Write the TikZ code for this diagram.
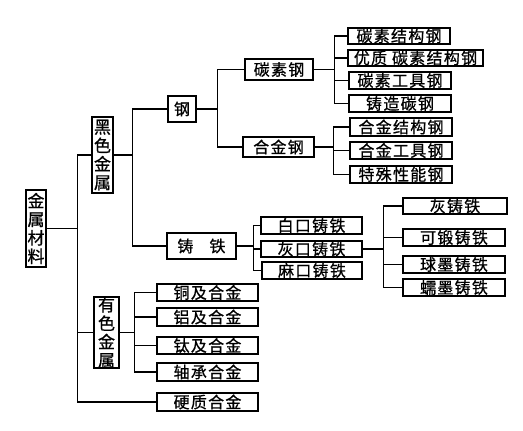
\documentclass[tikz,border=0pt]{standalone}
\usepackage{fontspec}
\newfontfamily\cjk[LetterSpace=8,FakeBold=0.8]{Noto Sans CJK SC}
\newfontfamily\cjkv[FakeBold=0.8]{Noto Sans CJK SC}
\usepackage{tikz}

\tikzset{
  box/.style={draw, line width=1.2pt, inner sep=0pt, minimum height=17pt,
    font=\cjk\fontsize{16}{17}\selectfont},
  vbox/.style={draw, line width=1.2pt, inner sep=0pt, align=center,
    font=\cjkv\fontsize{17}{18.5}\selectfont},
  link/.style={line width=1.2pt}
}

\begin{document}
\begin{tikzpicture}[x=1pt,y=-1pt]
\useasboundingbox (0,0) rectangle (523,431);

% root and first level
\node[vbox, minimum width=20pt, minimum height=77pt] (root) at (36,228.5) {金\\属\\材\\料};
\node[vbox, minimum width=21pt, minimum height=76pt] (hs) at (102.5,155) {黑\\色\\金\\属};
\node[vbox, minimum width=25pt, minimum height=71pt] (ys) at (106.5,332.5) {有\\色\\金\\属};
\node[box, minimum width=101pt, minimum height=18pt] (yz) at (207.5,402) {硬质合金};

% steel
\node[box, minimum width=28pt, minimum height=26pt] (gang) at (182,109) {钢};
\node[box, minimum width=68pt, minimum height=21pt] (tsg) at (279,69.5) {碳素钢};
\node[box, minimum width=71pt, minimum height=20pt] (hjg) at (278.5,147) {合金钢};

\node[box, minimum width=102pt, minimum height=16pt] (t1) at (399,36) {碳素结构钢};
\node[box, minimum width=135pt, minimum height=16pt] (t2) at (415.5,58) {优质 碳素结构钢};
\node[box, minimum width=102pt] (t3) at (400,80.5) {碳素工具钢};
\node[box, minimum width=102pt] (t4) at (400,103.5) {铸造碳钢};

\node[box, minimum width=102pt, minimum height=18pt] (h1) at (401,127) {合金结构钢};
\node[box, minimum width=102pt] (h2) at (401,150.5) {合金工具钢};
\node[box, minimum width=102pt] (h3) at (401,174.5) {特殊性能钢};

% cast iron
\node[box, minimum width=69pt, minimum height=26pt] (zt) at (201.5,246) {铸\hspace{1em}铁};
\node[box, minimum width=101pt] (z1) at (311.5,225.5) {白口铸铁};
\node[box, minimum width=101pt, minimum height=16pt] (z2) at (311.5,249) {灰口铸铁};
\node[box, minimum width=100pt] (z3) at (312,270.5) {麻口铸铁};

\node[box, minimum width=104pt, minimum height=16pt] (g1) at (455,206) {灰铸铁};
\node[box, minimum width=102pt] (g2) at (454,237.5) {可锻铸铁};
\node[box, minimum width=102pt] (g3) at (454,264.5) {球墨铸铁};
\node[box, minimum width=102pt] (g4) at (454,287.5) {蠕墨铸铁};

% non-ferrous
\node[box, minimum width=101pt] (y1) at (207.5,292.5) {铜及合金};
\node[box, minimum width=101pt, minimum height=18pt] (y2) at (207.5,317) {铝及合金};
\node[box, minimum width=101pt] (y3) at (207.5,345.5) {钛及合金};
\node[box, minimum width=101pt, minimum height=18pt] (y4) at (207.5,372) {轴承合金};

% connectors
\foreach \c in {hs,ys,yz} \draw[link] (root.east) -- ++(31,0) |- (\c.west);
\foreach \c in {gang,zt} \draw[link] (hs.east) -- ++(19,0) |- (\c.west);
\foreach \c in {tsg,hjg} \draw[link] (gang.east) -- ++(21,0) |- (\c.west);
\foreach \c in {t1,t2,t3,t4} \draw[link] (tsg.east) -- ++(21,0) |- (\c.west);
\foreach \c in {h1,h2,h3} \draw[link] (hjg.east) -- ++(19,0) |- (\c.west);
\foreach \c in {z1,z2,z3} \draw[link] (zt.east) -- ++(17,0) |- (\c.west);
\foreach \c in {g1,g2,g3,g4} \draw[link] (z2.east) -- ++(21,0) |- (\c.west);
\foreach \c in {y1,y2,y3,y4} \draw[link] (ys.east) -- ++(15,0) |- (\c.west);
\end{tikzpicture}
\end{document}
